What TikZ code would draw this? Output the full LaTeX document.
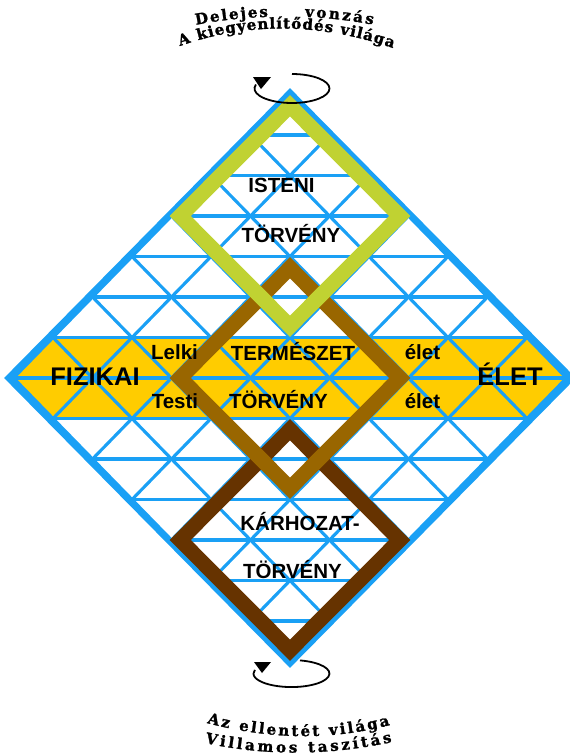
\documentclass[tikz,border=0pt]{standalone}
\usepackage{fontspec}
\setmainfont{Liberation Sans}
\newfontfamily\archfont[BoldFeatures={FakeBold=1.6}]{DejaVu Serif}
\usetikzlibrary{decorations.text}
\definecolor{gridblue}{HTML}{1AA0F5}
\definecolor{bandyellow}{HTML}{FFCC00}
\definecolor{lawgreen}{HTML}{C0D232}
\definecolor{lawgold}{HTML}{996600}
\definecolor{lawbrown}{HTML}{663300}

\begin{document}
\begin{tikzpicture}[x=1pt,y=-1pt,
  gridline/.style={gridblue,line width=3.1pt,line cap=round},
  rim/.style={gridblue,line width=5.5pt},
  law/.style={line width=15pt},
  lbl/.style={font=\fontsize{20.5}{21}\selectfont\bfseries,anchor=base,inner sep=0pt},
  biglbl/.style={font=\fontsize{25.5}{26}\selectfont\bfseries,anchor=base,inner sep=0pt},
  swirl/.style={line width=1.8pt},
  arch/.style={decorate,decoration={text along path,text align=fit to path,
    text={|\archfont\bfseries\fontsize{15}{15}\selectfont|#1}}}]
  \useasboundingbox (0,0) rectangle (570,756);

  % the grid
  \begin{scope}[shift={(290,378)},x=39.5pt,y=40.5pt]
    \fill[bandyellow] (-6,1) -- (6,1) -- (7,0) -- (6,-1) -- (-6,-1) -- (-7,0) -- cycle;
    \foreach \r in {-6,...,6}{
      \pgfmathsetmacro\w{7-abs(\r)}
      \draw[gridline] (-\w,\r) -- (\w,\r);
    }
    \foreach \c in {-7,-5,...,7}{
      \draw[gridline] ({(\c-7)/2},{(\c+7)/2}) -- ({(\c+7)/2},{(\c-7)/2});
      \draw[gridline] ({(\c-7)/2},{-(\c+7)/2}) -- ({(\c+7)/2},{(7-(\c))/2});
    }
    \draw[rim] (-7.14,0) -- (0,7.06) -- (7.14,0) -- (0,-7.06) -- cycle;
    % the three laws
    \draw[law,lawbrown] (-2.78,-4) -- (0,-1.28) -- (2.78,-4) -- (0,-6.72) -- cycle;
    \draw[law,lawgold] (-2.78,0) -- (0,2.72) -- (2.78,0) -- (0,-2.72) -- cycle;
    \draw[law,lawgreen] (-2.78,4) -- (0,6.72) -- (2.78,4) -- (0,1.28) -- cycle;
  \end{scope}

  \node[lbl] (isteni) at (281.5,192) {ISTENI};
  \node[lbl] (torveny1) at (291,242) {TÖRVÉNY};
  \node[biglbl] (fizikai) at (95,385) {FIZIKAI};
  \node[lbl] (lelki) at (174.5,359) {Lelki};
  \node[lbl] (testi) at (175,408) {Testi};
  \node[lbl] (termeszet) at (293,360) {TERMÉSZET};
  \node[lbl] (torveny2) at (278.5,408) {TÖRVÉNY};
  \node[lbl] (elet1) at (422.5,359) {élet};
  \node[lbl] (elet2) at (422.5,408) {élet};
  \node[biglbl] (eletbig) at (510,385) {ÉLET};
  \node[lbl] (karhozat) at (300,530) {KÁRHOZAT-};
  \node[lbl] (torveny3) at (292.5,578) {TÖRVÉNY};

  % turning arrows
  \draw[swirl] (292,74) arc[start angle=-90,end angle=196,x radius=37.5,y radius=14.5];
  \fill (253,77) -- (271,77) -- (261,89) -- cycle;
  \draw[swirl] (300,660.4) arc[start angle=-77,end angle=196,x radius=38,y radius=13.5];
  \fill (254,662) -- (271,662) -- (262,673) -- cycle;

  % arched captions
  \path[arch=Delejes] (196,24.8) .. controls (220,20.3) and (244,17.6) .. (268,16.8);
  \path[arch=vonzás] (305,16.9) .. controls (327.7,17.8) and (350.3,20.4) .. (373,24.6);
  \path[arch=A kiegyenlítődés világa] (180,46) .. controls (248,22) and (319,22.7) .. (393,48);
  \path[arch=Az ellentét világa] (207,723) .. controls (270.7,739.8) and (331.7,740.5) .. (390,725);
  \path[arch=Villamos taszítás] (205,743) .. controls (265.9,756.1) and (328.2,755.7) .. (392,742);
\end{tikzpicture}
\end{document}
